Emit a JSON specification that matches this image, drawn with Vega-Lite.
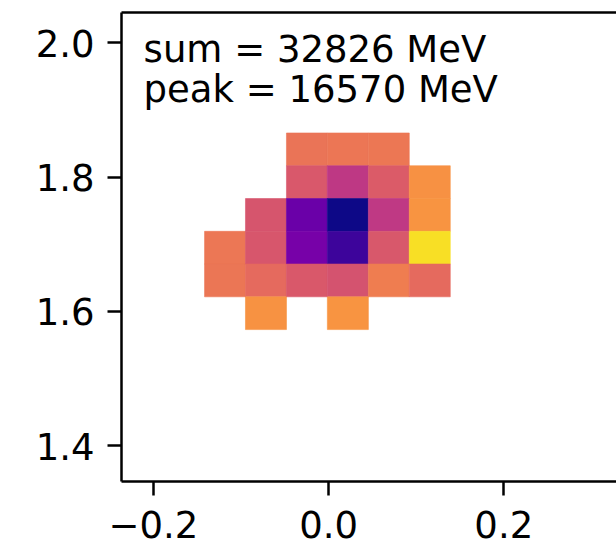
{
  "$schema": "https://vega.github.io/schema/vega-lite/v6.json",
  "autosize": {"type": "none"},
  "padding": {"left": 121, "top": 12, "right": 0, "bottom": 67},
  "width": 495,
  "height": 469,
  "background": "white",
  "config": {
    "view": {"stroke": null},
    "axis": {
      "labelFont": "DejaVu Sans",
      "labelFontSize": 37,
      "labelColor": "#000",
      "tickColor": "#000",
      "domainColor": "#000",
      "tickSize": 14,
      "tickWidth": 2.5,
      "domainWidth": 2.5,
      "labelPadding": 13,
      "grid": false,
      "title": null
    }
  },
  "datasets": {
    "cells": [
      {"eta_lo": -0.0475, "eta_hi": -0.0008, "phi_lo": 1.8162, "phi_hi": 1.8650, "E": 75.7},
      {"eta_lo": -0.0008, "eta_hi": 0.0460, "phi_lo": 1.8162, "phi_hi": 1.8650, "E": 70.4},
      {"eta_lo": 0.0460, "eta_hi": 0.0927, "phi_lo": 1.8162, "phi_hi": 1.8650, "E": 69.1},

      {"eta_lo": -0.0475, "eta_hi": -0.0008, "phi_lo": 1.7674, "phi_hi": 1.8162, "E": 159.7},
      {"eta_lo": -0.0008, "eta_hi": 0.0460, "phi_lo": 1.7674, "phi_hi": 1.8162, "E": 397.5},
      {"eta_lo": 0.0460, "eta_hi": 0.0927, "phi_lo": 1.7674, "phi_hi": 1.8162, "E": 147.0},
      {"eta_lo": 0.0927, "eta_hi": 0.1395, "phi_lo": 1.7674, "phi_hi": 1.8162, "E": 35.9},

      {"eta_lo": -0.0943, "eta_hi": -0.0475, "phi_lo": 1.7186, "phi_hi": 1.7674, "E": 173.5},
      {"eta_lo": -0.0475, "eta_hi": -0.0008, "phi_lo": 1.7186, "phi_hi": 1.7674, "E": 3157},
      {"eta_lo": -0.0008, "eta_hi": 0.0460, "phi_lo": 1.7186, "phi_hi": 1.7674, "E": 16570},
      {"eta_lo": 0.0460, "eta_hi": 0.0927, "phi_lo": 1.7186, "phi_hi": 1.7674, "E": 392.0},
      {"eta_lo": 0.0927, "eta_hi": 0.1395, "phi_lo": 1.7186, "phi_hi": 1.7674, "E": 33.1},

      {"eta_lo": -0.1410, "eta_hi": -0.0943, "phi_lo": 1.6699, "phi_hi": 1.7186, "E": 69.7},
      {"eta_lo": -0.0943, "eta_hi": -0.0475, "phi_lo": 1.6699, "phi_hi": 1.7186, "E": 170.2},
      {"eta_lo": -0.0475, "eta_hi": -0.0008, "phi_lo": 1.6699, "phi_hi": 1.7186, "E": 2462},
      {"eta_lo": -0.0008, "eta_hi": 0.0460, "phi_lo": 1.6699, "phi_hi": 1.7186, "E": 7928},
      {"eta_lo": 0.0460, "eta_hi": 0.0927, "phi_lo": 1.6699, "phi_hi": 1.7186, "E": 161.3},
      {"eta_lo": 0.0927, "eta_hi": 0.1395, "phi_lo": 1.6699, "phi_hi": 1.7186, "E": 6.8},

      {"eta_lo": -0.1410, "eta_hi": -0.0943, "phi_lo": 1.6211, "phi_hi": 1.6699, "E": 70.9},
      {"eta_lo": -0.0943, "eta_hi": -0.0475, "phi_lo": 1.6211, "phi_hi": 1.6699, "E": 97.0},
      {"eta_lo": -0.0475, "eta_hi": -0.0008, "phi_lo": 1.6211, "phi_hi": 1.6699, "E": 158.4},
      {"eta_lo": -0.0008, "eta_hi": 0.0460, "phi_lo": 1.6211, "phi_hi": 1.6699, "E": 188.5},
      {"eta_lo": 0.0460, "eta_hi": 0.0927, "phi_lo": 1.6211, "phi_hi": 1.6699, "E": 59.0},
      {"eta_lo": 0.0927, "eta_hi": 0.1395, "phi_lo": 1.6211, "phi_hi": 1.6699, "E": 96.2},

      {"eta_lo": -0.0943, "eta_hi": -0.0475, "phi_lo": 1.5723, "phi_hi": 1.6211, "E": 35.4},
      {"eta_lo": -0.0008, "eta_hi": 0.0460, "phi_lo": 1.5723, "phi_hi": 1.6211, "E": 33.6}
    ],
    "notes": [
      {"label": ["sum = 32826 MeV", "peak = 16570 MeV"]}
    ]
  },
  "layer": [
    {
      "data": {"name": "cells"},
      "mark": {"type": "rect", "strokeWidth": 0.6},
      "encoding": {
        "x": {
          "field": "eta_lo", "type": "quantitative",
          "scale": {"domain": [-0.2364, 0.3287], "nice": false, "zero": false},
          "axis": {"orient": "bottom", "values": [-0.2, 0, 0.2], "format": ".1f", "labelFlush": false}
        },
        "x2": {"field": "eta_hi"},
        "y": {
          "field": "phi_lo", "type": "quantitative",
          "scale": {"domain": [1.3469, 2.0451], "nice": false, "zero": false},
          "axis": {"orient": "left", "values": [1.4, 1.6, 1.8, 2.0], "format": ".1f", "labelFlush": false, "labelOffset": 3}
        },
        "y2": {"field": "phi_hi"},
        "color": {
          "field": "E", "type": "quantitative",
          "scale": {"type": "log", "scheme": "plasma", "reverse": true, "domain": [4.16, 16570]},
          "legend": null
        },
        "stroke": {
          "field": "E", "type": "quantitative",
          "scale": {"type": "log", "scheme": "plasma", "reverse": true, "domain": [4.16, 16570]},
          "legend": null
        }
      }
    },
    {
      "data": {"name": "notes"},
      "mark": {
        "type": "text",
        "align": "left",
        "baseline": "alphabetic",
        "font": "DejaVu Sans",
        "fontSize": 37,
        "lineHeight": 40,
        "color": "#000"
      },
      "encoding": {
        "x": {"datum": -0.2106, "type": "quantitative", "axis": {"orient": "top", "labels": false, "ticks": false, "domain": true}},
        "y": {"datum": 1.971, "type": "quantitative"},
        "text": {"field": "label"}
      }
    }
  ]
}
